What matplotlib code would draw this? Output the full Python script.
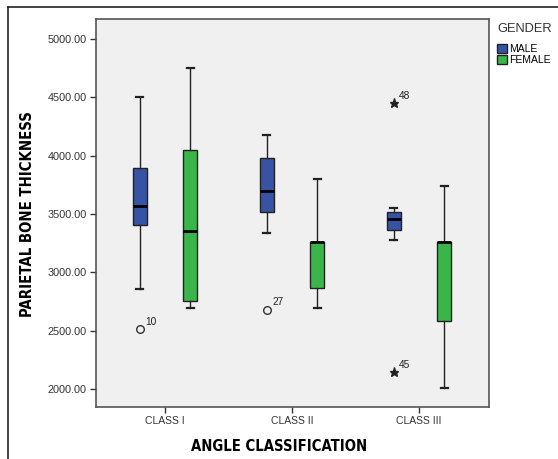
import matplotlib.pyplot as plt
from matplotlib import font_manager
from matplotlib.patches import Patch
from matplotlib.lines import Line2D

# data
classes = ['CLASS I', 'CLASS II', 'CLASS III']
genders = ['MALE', 'FEMALE']
colors = ['#3953a4', '#3ab54a']

# box stats per class: [low whisker, Q1, median, Q3, high whisker]
male_stats = [
    [2856, 3405, 3566, 3891, 4500],
    [3336, 3517, 3698, 3983, 4175],
    [3274, 3360, 3460, 3520, 3549],
]
female_stats = [
    [2690, 2750, 3354, 4046, 4750],
    [2690, 2862, 3259, 3259, 3800],
    [2009, 2586, 3259, 3259, 3741],
]

# outliers: (class index, gender index, value, case label, marker)
outliers = [
    (0, 0, 2510, '10', 'o'),
    (1, 0, 2681, '27', 'o'),
    (2, 0, 4448, '48', '*'),
    (2, 0, 2147, '45', '*'),
]

yticks = [2000, 2500, 3000, 3500, 4000, 4500, 5000]

plt.rcParams['font.family'] = ['Liberation Sans', 'DejaVu Sans']

# pick a narrow bold font for the axis titles if one is installed
narrow = None
for f in font_manager.fontManager.ttflist:
    if f.name == 'Liberation Sans Narrow':
        narrow = dict(family='Liberation Sans Narrow')
        break
if narrow is None:
    for f in font_manager.fontManager.ttflist:
        if 'Condensed' in f.name or f.stretch in ('condensed', 'semi-condensed'):
            narrow = dict(family=f.name, stretch=f.stretch)
            break
if narrow is None:
    narrow = dict(family='Liberation Sans')

fig = plt.figure(figsize=(5.58, 4.59), dpi=100)
ax = fig.add_axes([0.172, 0.1133, 0.704, 0.8453])
ax.set_facecolor('#f0f0f1')

offset = 0.2
positions = [[i + 1 - offset for i in range(3)], [i + 1 + offset for i in range(3)]]

for g, stats in enumerate([male_stats, female_stats]):
    bxp_stats = []
    for s in stats:
        bxp_stats.append({'whislo': s[0], 'q1': s[1], 'med': s[2],
                          'q3': s[3], 'whishi': s[4], 'fliers': []})
    ax.bxp(bxp_stats, positions=positions[g], widths=0.11, capwidths=0.05,
           patch_artist=True, showfliers=False,
           boxprops=dict(facecolor=colors[g], edgecolor='#222222', linewidth=1.0),
           medianprops=dict(color='black', linewidth=2.0),
           whiskerprops=dict(color='#222222', linewidth=1.0),
           capprops=dict(color='#222222', linewidth=1.6))

for ci, gi, val, lab, mk in outliers:
    x = positions[gi][ci]
    if mk == 'o':
        ax.plot(x, val, marker='o', markersize=5.5, markerfacecolor='none',
                markeredgecolor='#333333', markeredgewidth=1.0, linestyle='none')
    else:
        ax.plot(x, val, marker='*', markersize=6.5, color='#222222', linestyle='none')
    ax.annotate(lab, (x, val), xytext=(4, 3), textcoords='offset points',
                fontsize=7.3, color='#222222')

ax.set_xlim(0.457, 3.55)
ax.set_ylim(1845, 5172)
ax.set_xticks([1, 2, 3])
ax.set_xticklabels(classes, fontsize=7.5, color='#333333')
ax.set_yticks(yticks)
ax.set_yticklabels(['%.2f' % v for v in yticks], fontsize=7.8, color='#333333')
ax.tick_params(axis='both', length=4, width=1, color='#333333', pad=2.5)
for sp in ax.spines.values():
    sp.set_color('#555555')
    sp.set_linewidth(1.2)

fig.text(0.05, 0.534, 'PARIETAL BONE THICKNESS', rotation=90, ha='center',
         va='center', fontsize=10.7, fontweight='bold', **narrow)
fig.text(0.5, 0.028, 'ANGLE CLASSIFICATION', ha='center', va='center',
         fontsize=10.6, fontweight='bold', **narrow)

# outer frame (top and left edges visible)
fig.add_artist(Line2D([0.0143, 0.0143], [0.0, 0.985], color='#222222', linewidth=1.2))
fig.add_artist(Line2D([0.0143, 1.0], [0.985, 0.985], color='#222222', linewidth=1.2))

# legend: title as its own text so the gap below it matches
fig.text(0.891, 0.936, 'GENDER', ha='left', va='center', fontsize=9.3, color='#333333')
handles = [Patch(facecolor=colors[i], edgecolor='#222222', label=genders[i]) for i in range(2)]
fig.legend(handles=handles, loc='upper left', bbox_to_anchor=(0.891, 0.904),
           frameon=False, fontsize=7.5, handlelength=0.9, handleheight=0.9,
           handletextpad=0.2, labelspacing=0.1, borderpad=0.0, borderaxespad=0.0)

fig.savefig('out.png', dpi=100)
